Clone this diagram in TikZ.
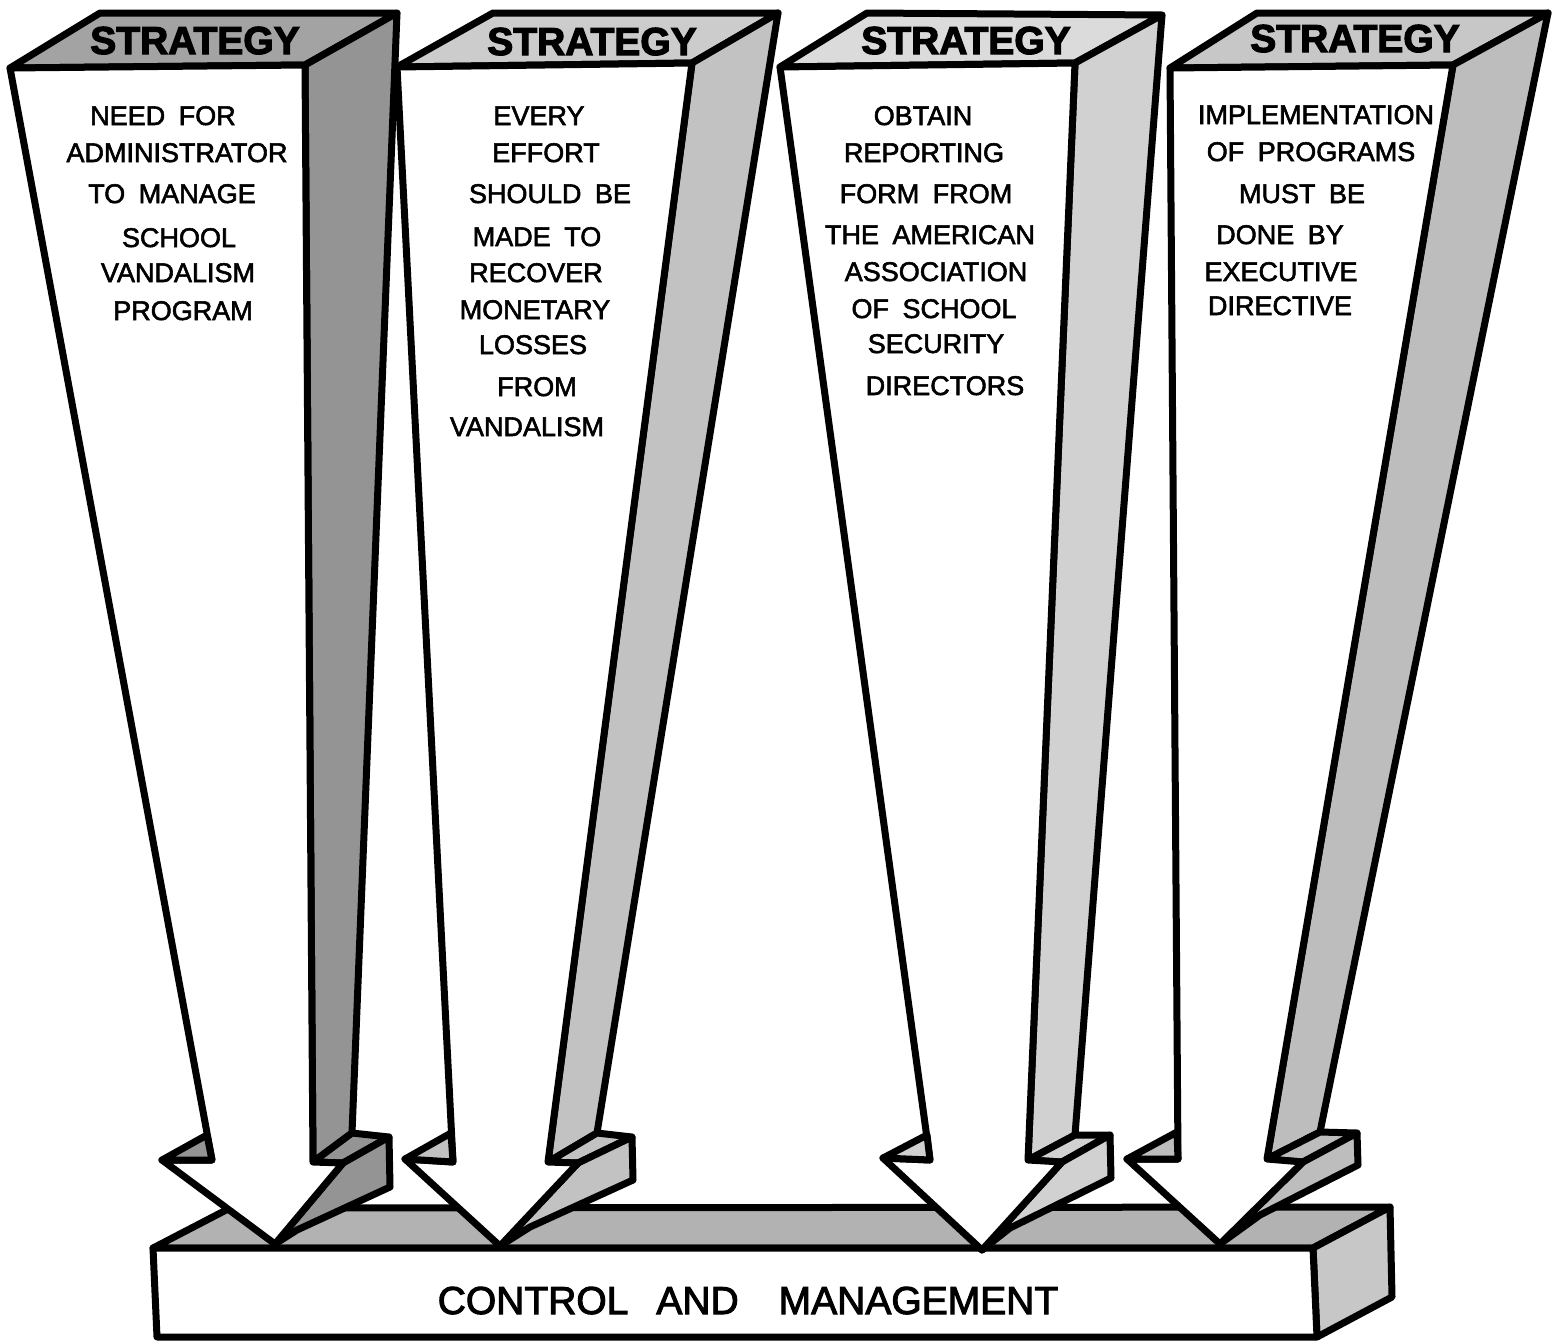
\documentclass[tikz,border=0pt]{standalone}
\usepackage{fontspec}
\setmainfont{Liberation Sans}
\newfontfamily\bodyfont[WordSpace=1.8,FakeBold=2]{Liberation Sans}
\newfontfamily\barfont[FakeBold=2.5]{Liberation Sans}
\newfontfamily\stratfont[FakeBold=3]{Liberation Sans Bold}
\begin{document}
\begin{tikzpicture}[x=1pt,y=-1pt,
  face/.style={draw=black, line width=7pt, line join=round},
  body/.style={font=\bodyfont\fontsize{27}{30}\selectfont, anchor=base, inner sep=0pt},
  stratlbl/.style={font=\stratfont\fontsize{39}{42}\selectfont, anchor=base, inner sep=0pt},
  barlbl/.style={font=\barfont\fontsize{39}{42}\selectfont, anchor=base, inner sep=0pt}]
\useasboundingbox (0,0) rectangle (1558,1342);

% ---------- bar ----------
\coordinate (bFL) at (153,1248);
\coordinate (bFR) at (1313,1248);
\coordinate (bBR) at (1317,1337);
\coordinate (bBL) at (157,1337);
\coordinate (bKL) at (230,1208);
\coordinate (bKR) at (1390,1207);
\coordinate (bKD) at (1392,1297);
\filldraw[face, fill=black!30] (bFL) -- (bKL) -- (bKR) -- (bFR) -- cycle;
\filldraw[face, fill=black!22] (bFR) -- (bKR) -- (bKD) -- (bBR) -- cycle;
\filldraw[face, fill=white] (bFL) -- (bFR) -- (bBR) -- (bBL) -- cycle;
\node[barlbl] (bar) at (748,1314) {CONTROL\hspace{28pt}AND\hspace{40pt}MANAGEMENT};

% ---------- arrow coordinates ----------
% arrow 1
\coordinate (a1-TL) at (10,68);   \coordinate (a1-TR) at (305,65);
\coordinate (a1-KL) at (100,13);  \coordinate (a1-KR) at (397,13);
\coordinate (a1-SR) at (313,1162); \coordinate (a1-SB) at (352,1133);
\coordinate (a1-FB) at (343,1163); \coordinate (a1-BB) at (389,1137);
\coordinate (a1-BL) at (390,1187); \coordinate (a1-NT) at (297,1230);
\coordinate (a1-T)  at (275,1244); \coordinate (a1-LB) at (162,1160);
\coordinate (a1-SL) at (212,1160); \coordinate (a1-LI) at (207,1135);
% arrow 2
\coordinate (a2-TL) at (397,67);  \coordinate (a2-TR) at (692,63);
\coordinate (a2-KL) at (493,13);  \coordinate (a2-KR) at (778,13);
\coordinate (a2-SR) at (548,1162); \coordinate (a2-SB) at (597,1133);
\coordinate (a2-FB) at (578,1163); \coordinate (a2-BB) at (632,1137);
\coordinate (a2-BL) at (633,1180); \coordinate (a2-NT) at (530,1227);
\coordinate (a2-T)  at (500,1246); \coordinate (a2-LB) at (405,1159);
\coordinate (a2-SL) at (453,1162); \coordinate (a2-LI) at (451,1133);
% arrow 3
\coordinate (a3-TL) at (780,67);  \coordinate (a3-TR) at (1075,63);
\coordinate (a3-KL) at (867,13);  \coordinate (a3-KR) at (1162,15);
\coordinate (a3-SR) at (1028,1160); \coordinate (a3-SB) at (1075,1135);
\coordinate (a3-FB) at (1062,1162); \coordinate (a3-BB) at (1110,1135);
\coordinate (a3-BL) at (1111,1178); \coordinate (a3-NT) at (1010,1228);
\coordinate (a3-T)  at (982,1250); \coordinate (a3-LB) at (883,1158);
\coordinate (a3-SL) at (930,1160); \coordinate (a3-LI) at (927,1135);
% arrow 4
\coordinate (a4-TL) at (1170,68); \coordinate (a4-TR) at (1453,65);
\coordinate (a4-KL) at (1257,13); \coordinate (a4-KR) at (1548,13);
\coordinate (a4-SR) at (1267,1159); \coordinate (a4-SB) at (1320,1132);
\coordinate (a4-FB) at (1303,1162); \coordinate (a4-BB) at (1357,1133);
\coordinate (a4-BL) at (1358,1165); \coordinate (a4-NT) at (1260,1215);
\coordinate (a4-T)  at (1220,1244); \coordinate (a4-LB) at (1127,1159);
\coordinate (a4-SL) at (1178,1159); \coordinate (a4-LI) at (1177,1132);

% ---------- arrows ----------
\foreach \n/\ct/\cs in {1/black!36/black!42, 2/black!20/black!24, 3/black!14/black!18, 4/black!22/black!26}{
  \filldraw[face, fill=\ct] (a\n-TL) -- (a\n-KL) -- (a\n-KR) -- (a\n-TR) -- cycle;
  \filldraw[face, fill=\cs] (a\n-TR) -- (a\n-KR) -- (a\n-SB) -- (a\n-SR) -- cycle;
  \filldraw[face, fill=\cs] (a\n-SR) -- (a\n-SB) -- (a\n-BB) -- (a\n-FB) -- cycle;
  \filldraw[face, fill=\cs] (a\n-FB) -- (a\n-BB) -- (a\n-BL) -- (a\n-NT) -- (a\n-T) -- cycle;
  \filldraw[face, fill=white] (a\n-TL) -- (a\n-TR) -- (a\n-SR) -- (a\n-FB) -- (a\n-T) -- (a\n-LB) -- (a\n-SL) -- cycle;
  \filldraw[face, fill=\cs] (a\n-LB) -- (a\n-LI) -- (a\n-SL) -- cycle;
}

% ---------- STRATEGY labels ----------
\node[stratlbl] (s1) at (195,54) {STRATEGY};
\node[stratlbl] (s2) at (592,55) {STRATEGY};
\node[stratlbl] (s3) at (966,54) {STRATEGY};
\node[stratlbl] (s4) at (1355,52) {STRATEGY};

% ---------- body texts ----------
\foreach \t/\x/\y [count=\i] in {NEED FOR/163/115, ADMINISTRATOR/177/152, TO MANAGE/172/193, SCHOOL/179/237, VANDALISM/178/272, PROGRAM/183/310}
  \node[body] (t1-\i) at (\x,\y+10) {\t};
\foreach \t/\x/\y [count=\i] in {EVERY/539/115, EFFORT/546/152, SHOULD BE/550/193, MADE TO/537/236, RECOVER/536/272, MONETARY/535/309, LOSSES/533/344, FROM/537/386, VANDALISM/527/426}
  \node[body] (t2-\i) at (\x,\y+10) {\t};
\foreach \t/\x/\y [count=\i] in {OBTAIN/923/115, REPORTING/924/152, FORM FROM/926/193, THE AMERICAN/930/234, ASSOCIATION/936/271, OF SCHOOL/934/308, SECURITY/936/343, DIRECTORS/945/385}
  \node[body] (t3-\i) at (\x,\y+10) {\t};
\foreach \t/\x/\y [count=\i] in {IMPLEMENTATION/1316/114, OF PROGRAMS/1311/151, MUST BE/1302/193, DONE BY/1280/234, EXECUTIVE/1281/271, DIRECTIVE/1280/305}
  \node[body] (t4-\i) at (\x,\y+10) {\t};
\end{tikzpicture}
\end{document}
